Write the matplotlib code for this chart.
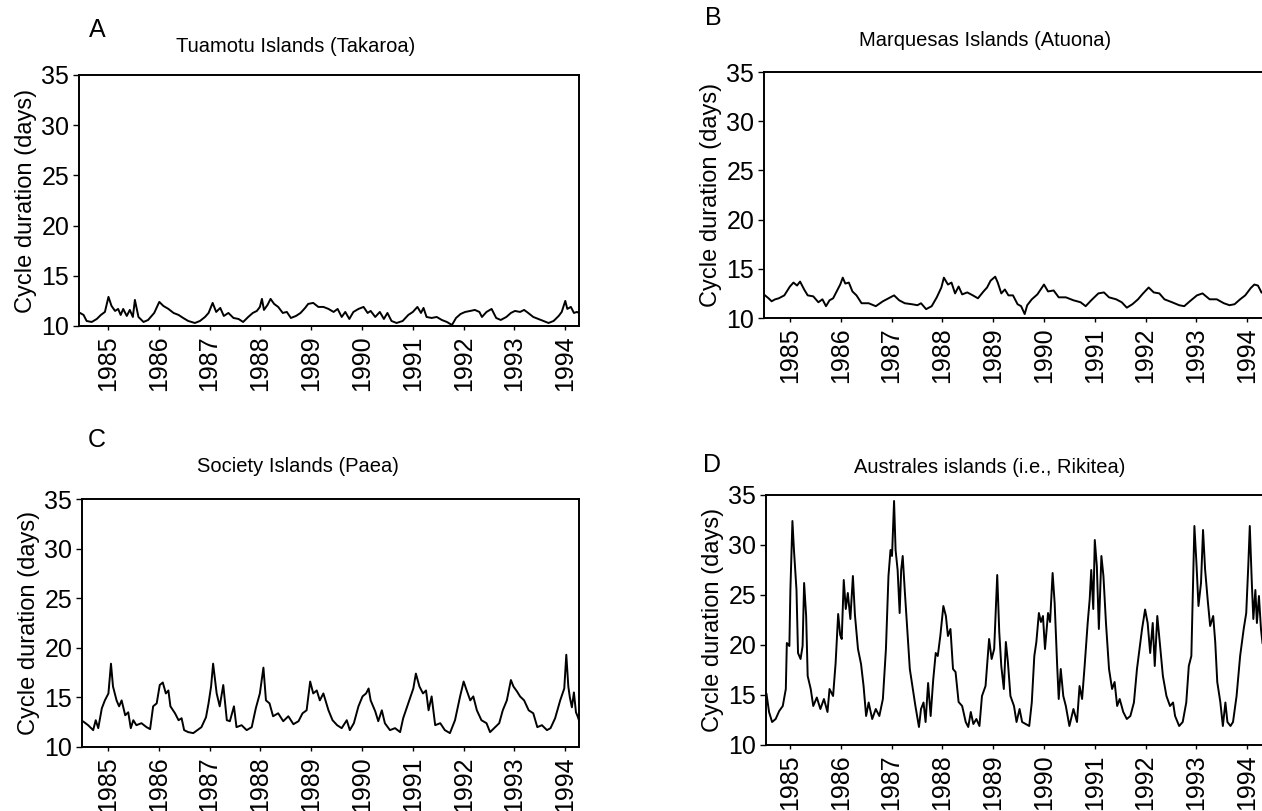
import matplotlib
matplotlib.use("Agg")
import matplotlib.pyplot as plt

plt.rcParams['font.family'] = ['Liberation Sans', 'DejaVu Sans']

# ---------------- data ----------------
years_ticks = [1985, 1986, 1987, 1988, 1989, 1990, 1991, 1992, 1993, 1994]
y_ticks = [10, 15, 20, 25, 30, 35]

panel_letters = ["A", "B", "C", "D"]
panel_titles = ["Tuamotu Islands (Takaroa)", "Marquesas Islands (Atuona)",
                "Society Islands (Paea)", "Australes islands (i.e., Rikitea)"]
y_label = "Cycle duration (days)"

a_t = [1984.45, 1984.52, 1984.58, 1984.68, 1984.78, 1984.86, 1984.94, 1985.01, 1985.07, 1985.14,
       1985.20, 1985.25, 1985.30, 1985.37, 1985.43, 1985.49, 1985.53, 1985.60, 1985.70, 1985.79,
       1985.91, 1986.01, 1986.09, 1986.19, 1986.29, 1986.39, 1986.48, 1986.58, 1986.71, 1986.81,
       1986.91, 1986.98, 1987.06, 1987.13, 1987.21, 1987.28, 1987.37, 1987.47, 1987.57, 1987.66,
       1987.76, 1987.85, 1987.93, 1987.99, 1988.03, 1988.07, 1988.14, 1988.20, 1988.27, 1988.35,
       1988.44, 1988.52, 1988.60, 1988.70, 1988.79, 1988.88, 1988.94, 1989.04, 1989.14, 1989.24,
       1989.34, 1989.44, 1989.52, 1989.60, 1989.67, 1989.75, 1989.83, 1989.93, 1990.03, 1990.11,
       1990.17, 1990.26, 1990.35, 1990.43, 1990.50, 1990.58, 1990.68, 1990.80, 1990.91, 1991.00,
       1991.09, 1991.16, 1991.21, 1991.27, 1991.37, 1991.47, 1991.57, 1991.67, 1991.77, 1991.85,
       1991.94, 1992.03, 1992.13, 1992.22, 1992.31, 1992.36, 1992.45, 1992.55, 1992.64, 1992.73,
       1992.84, 1992.93, 1993.01, 1993.11, 1993.19, 1993.27, 1993.37, 1993.47, 1993.57, 1993.67,
       1993.77, 1993.87, 1993.93, 1994.00, 1994.04, 1994.11, 1994.17, 1994.23, 1994.27]
a_v = [11.3, 11.1, 10.5, 10.4, 10.7, 11.1, 11.4, 12.9, 12.0, 11.5,
       11.7, 11.1, 11.7, 11.0, 11.6, 10.9, 12.6, 10.9, 10.4, 10.6,
       11.3, 12.4, 12.0, 11.7, 11.3, 11.1, 10.8, 10.5, 10.3, 10.5,
       10.9, 11.3, 12.3, 11.4, 11.8, 11.0, 11.3, 10.8, 10.7, 10.4,
       10.9, 11.3, 11.5, 11.9, 12.7, 11.6, 12.1, 12.7, 12.2, 11.9,
       11.3, 11.4, 10.8, 11.0, 11.3, 11.8, 12.2, 12.3, 11.9, 11.9,
       11.7, 11.4, 11.7, 10.9, 11.4, 10.7, 11.4, 11.7, 11.9, 11.3,
       11.5, 10.9, 11.4, 10.7, 11.3, 10.5, 10.3, 10.5, 11.1, 11.4,
       11.9, 11.3, 11.8, 10.9, 10.8, 10.9, 10.6, 10.4, 10.1, 10.8,
       11.2, 11.4, 11.5, 11.6, 11.4, 10.9, 11.4, 11.7, 10.8, 10.6,
       10.9, 11.3, 11.5, 11.4, 11.6, 11.3, 10.9, 10.7, 10.5, 10.3,
       10.5, 11.0, 11.4, 12.5, 11.7, 11.9, 11.3, 11.4, 11.3]

b_t = [1984.51, 1984.58, 1984.64, 1984.71, 1984.78, 1984.89, 1985.00, 1985.07, 1985.14, 1985.20,
       1985.28, 1985.35, 1985.46, 1985.56, 1985.64, 1985.71, 1985.78, 1985.85, 1985.92, 1985.99,
       1986.04, 1986.09, 1986.16, 1986.23, 1986.31, 1986.41, 1986.55, 1986.69, 1986.83, 1986.94,
       1987.05, 1987.15, 1987.26, 1987.40, 1987.51, 1987.58, 1987.68, 1987.79, 1987.89, 1987.98,
       1988.03, 1988.11, 1988.18, 1988.25, 1988.32, 1988.39, 1988.49, 1988.60, 1988.70, 1988.81,
       1988.88, 1988.95, 1989.04, 1989.09, 1989.16, 1989.23, 1989.30, 1989.39, 1989.48, 1989.55,
       1989.62, 1989.67, 1989.76, 1989.87, 1990.00, 1990.08, 1990.19, 1990.29, 1990.43, 1990.58,
       1990.72, 1990.82, 1990.93, 1991.07, 1991.18, 1991.28, 1991.42, 1991.53, 1991.63, 1991.74,
       1991.85, 1991.95, 1992.06, 1992.16, 1992.27, 1992.37, 1992.52, 1992.66, 1992.76, 1992.87,
       1993.01, 1993.12, 1993.26, 1993.40, 1993.54, 1993.65, 1993.75, 1993.86, 1993.96, 1994.07,
       1994.14, 1994.21, 1994.28]
b_v = [12.3, 12.0, 11.7, 11.9, 12.0, 12.3, 13.2, 13.6, 13.3, 13.7,
       12.9, 12.3, 12.2, 11.6, 11.9, 11.2, 11.8, 12.0, 12.7, 13.4,
       14.1, 13.5, 13.6, 12.7, 12.3, 11.5, 11.5, 11.2, 11.7, 12.0,
       12.3, 11.8, 11.5, 11.4, 11.3, 11.5, 10.9, 11.2, 12.1, 13.1,
       14.1, 13.4, 13.6, 12.5, 13.2, 12.4, 12.6, 12.3, 12.0, 12.7,
       13.1, 13.8, 14.2, 13.6, 12.5, 12.9, 12.3, 12.3, 11.4, 11.2,
       10.4, 11.3, 11.9, 12.4, 13.4, 12.7, 12.8, 12.1, 12.1, 11.8,
       11.6, 11.2, 11.8, 12.5, 12.6, 12.1, 11.9, 11.6, 11.05, 11.4,
       11.9, 12.5, 13.1, 12.6, 12.5, 11.9, 11.6, 11.3, 11.2, 11.7,
       12.3, 12.5, 11.9, 11.9, 11.5, 11.3, 11.4, 11.9, 12.3, 13.05,
       13.4, 13.3, 12.6]

c_t = [1984.52, 1984.61, 1984.71, 1984.76, 1984.81, 1984.88, 1984.94, 1985.01, 1985.06, 1985.10,
       1985.17, 1985.22, 1985.27, 1985.34, 1985.40, 1985.45, 1985.50, 1985.56, 1985.66, 1985.76,
       1985.83, 1985.89, 1985.96, 1986.02, 1986.08, 1986.14, 1986.19, 1986.23, 1986.32, 1986.39,
       1986.45, 1986.50, 1986.58, 1986.68, 1986.76, 1986.84, 1986.93, 1986.98, 1987.03, 1987.07,
       1987.14, 1987.20, 1987.27, 1987.34, 1987.40, 1987.48, 1987.53, 1987.63, 1987.73, 1987.83,
       1987.91, 1987.99, 1988.06, 1988.11, 1988.18, 1988.25, 1988.35, 1988.45, 1988.55, 1988.65,
       1988.75, 1988.83, 1988.91, 1988.98, 1989.04, 1989.11, 1989.17, 1989.24, 1989.34, 1989.42,
       1989.51, 1989.60, 1989.70, 1989.76, 1989.84, 1989.93, 1990.01, 1990.08, 1990.13, 1990.17,
       1990.26, 1990.32, 1990.39, 1990.45, 1990.55, 1990.65, 1990.75, 1990.81, 1990.91, 1991.01,
       1991.06, 1991.13, 1991.20, 1991.26, 1991.31, 1991.37, 1991.44, 1991.54, 1991.63, 1991.73,
       1991.83, 1991.93, 1992.00, 1992.06, 1992.13, 1992.19, 1992.26, 1992.35, 1992.45, 1992.52,
       1992.62, 1992.70, 1992.77, 1992.85, 1992.93, 1992.98, 1993.05, 1993.11, 1993.19, 1993.28,
       1993.37, 1993.45, 1993.54, 1993.64, 1993.71, 1993.80, 1993.90, 1993.98, 1994.02, 1994.06,
       1994.09, 1994.13, 1994.17, 1994.21, 1994.25, 1994.28]
c_v = [12.55, 12.2, 11.7, 12.7, 11.9, 13.9, 14.7, 15.4, 18.4, 16.1,
       14.7, 14.1, 14.7, 13.2, 13.5, 11.9, 12.7, 12.2, 12.4, 12.0,
       11.8, 14.1, 14.4, 16.25, 16.5, 15.4, 15.7, 14.1, 13.4, 12.7,
       12.9, 11.7, 11.5, 11.4, 11.7, 12.0, 13.0, 14.4, 16.1, 18.4,
       15.4, 14.1, 16.25, 12.7, 12.6, 14.1, 12.0, 12.2, 11.7, 12.0,
       13.9, 15.4, 18.0, 14.7, 14.4, 13.1, 13.4, 12.6, 13.1, 12.3,
       12.6, 13.4, 13.7, 16.6, 15.4, 15.7, 14.7, 15.4, 13.7, 12.7,
       12.2, 11.9, 12.7, 11.7, 12.4, 14.1, 15.1, 15.4, 15.9, 14.7,
       13.6, 12.6, 13.7, 12.4, 11.7, 11.9, 11.5, 12.9, 14.4, 15.9,
       17.4, 16.1, 15.4, 15.7, 13.7, 15.1, 12.2, 12.4, 11.7, 11.4,
       12.7, 15.1, 16.6, 15.7, 14.7, 15.1, 13.7, 12.7, 12.4, 11.5,
       12.0, 12.4, 13.7, 14.7, 16.75, 16.1, 15.6, 15.1, 14.7, 13.7,
       13.4, 12.0, 12.2, 11.7, 11.9, 12.9, 14.7, 15.9, 19.3, 16.1,
       15.0, 14.0, 15.5, 13.5, 13.0, 12.5]

d_t = [1984.54, 1984.59, 1984.65, 1984.72, 1984.79, 1984.86, 1984.92, 1984.94, 1984.99, 1985.01,
       1985.05, 1985.08, 1985.13, 1985.16, 1985.21, 1985.25, 1985.28, 1985.32, 1985.35, 1985.41,
       1985.46, 1985.53, 1985.60, 1985.67, 1985.74, 1985.78, 1985.85, 1985.90, 1985.95, 1985.99,
       1986.02, 1986.06, 1986.10, 1986.14, 1986.19, 1986.24, 1986.28, 1986.34, 1986.40, 1986.45,
       1986.50, 1986.55, 1986.62, 1986.69, 1986.76, 1986.83, 1986.89, 1986.94, 1986.98, 1987.01,
       1987.05, 1987.08, 1987.12, 1987.16, 1987.19, 1987.22, 1987.26, 1987.31, 1987.36, 1987.42,
       1987.47, 1987.54, 1987.58, 1987.63, 1987.67, 1987.72, 1987.77, 1987.82, 1987.87, 1987.91,
       1987.96, 1988.02, 1988.07, 1988.11, 1988.16, 1988.21, 1988.26, 1988.32, 1988.39, 1988.46,
       1988.51, 1988.56, 1988.61, 1988.67, 1988.73, 1988.78, 1988.85, 1988.92, 1988.97, 1989.02,
       1989.08, 1989.12, 1989.16, 1989.21, 1989.25, 1989.29, 1989.34, 1989.41, 1989.46, 1989.52,
       1989.57, 1989.64, 1989.71, 1989.76, 1989.81, 1989.85, 1989.90, 1989.94, 1989.98, 1990.02,
       1990.08, 1990.12, 1990.17, 1990.21, 1990.26, 1990.29, 1990.33, 1990.38, 1990.43, 1990.50,
       1990.58, 1990.65, 1990.70, 1990.75, 1990.80, 1990.86, 1990.90, 1990.93, 1990.97, 1991.00,
       1991.04, 1991.08, 1991.13, 1991.17, 1991.22, 1991.28, 1991.34, 1991.39, 1991.44, 1991.49,
       1991.56, 1991.63, 1991.70, 1991.77, 1991.83, 1991.88, 1991.93, 1991.99, 1992.04, 1992.09,
       1992.14, 1992.18, 1992.23, 1992.28, 1992.34, 1992.41, 1992.48, 1992.54, 1992.58, 1992.66,
       1992.73, 1992.80, 1992.85, 1992.90, 1992.96, 1993.00, 1993.04, 1993.09, 1993.13, 1993.17,
       1993.22, 1993.27, 1993.33, 1993.37, 1993.41, 1993.47, 1993.52, 1993.57, 1993.61, 1993.67,
       1993.72, 1993.79, 1993.86, 1993.93, 1993.98, 1994.02, 1994.05, 1994.09, 1994.12, 1994.16,
       1994.19, 1994.23, 1994.27, 1994.30]
d_v = [15.1, 13.3, 12.3, 12.6, 13.4, 13.9, 15.6, 20.2, 19.9, 25.5,
       32.4, 29.5, 25.5, 19.2, 18.6, 19.9, 26.2, 22.9, 16.9, 15.6,
       13.9, 14.75, 13.6, 14.6, 13.3, 15.6, 14.9, 18.2, 23.1, 21.0,
       20.6, 26.5, 23.6, 25.2, 22.6, 26.9, 23.0, 19.6, 18.1, 15.9,
       12.9, 14.25, 12.6, 13.6, 12.9, 14.6, 19.6, 26.9, 29.5, 28.9,
       34.4, 29.5, 27.5, 23.2, 27.5, 28.9, 25.5, 21.6, 17.6, 15.6,
       13.9, 11.8, 13.6, 14.25, 12.3, 16.2, 12.9, 16.5, 19.2, 18.9,
       20.9, 23.9, 22.9, 20.9, 21.6, 17.6, 17.3, 14.3, 13.9, 12.3,
       11.8, 13.3, 12.1, 12.6, 11.9, 14.9, 15.9, 20.6, 18.6, 19.6,
       27.0, 21.3, 17.9, 15.6, 20.3, 18.3, 14.9, 13.9, 12.3, 13.6,
       12.3, 12.1, 11.9, 14.25, 18.9, 20.3, 23.2, 22.3, 22.9, 19.6,
       23.2, 22.3, 27.2, 24.2, 17.9, 14.6, 17.6, 14.9, 13.9, 11.9,
       13.6, 12.3, 15.9, 14.6, 17.9, 22.2, 24.6, 27.5, 23.6, 30.5,
       27.9, 21.6, 28.9, 26.9, 22.2, 17.6, 15.6, 16.3, 13.9, 14.6,
       13.3, 12.6, 12.9, 14.25, 17.6, 19.6, 21.6, 23.55, 22.2, 19.2,
       22.2, 17.9, 22.9, 20.2, 16.9, 14.9, 13.9, 14.25, 12.9, 11.9,
       12.3, 14.25, 17.9, 18.9, 31.9, 28.2, 23.9, 26.2, 31.5, 27.6,
       24.6, 21.9, 22.9, 20.3, 16.3, 14.3, 11.9, 14.25, 12.3, 11.9,
       12.3, 14.9, 18.9, 21.6, 23.2, 27.9, 31.9, 26.2, 22.6, 25.5,
       22.2, 24.9, 21.6, 20.2]

series = [(a_t, a_v), (b_t, b_v), (c_t, c_v), (d_t, d_v)]

# ---------------- layout ----------------
W, H = 1262, 811
fig = plt.figure(figsize=(W / 100, H / 100), dpi=100)

# pixel boxes: left, right, top, bottom
boxes = [(79, 579, 75, 326), (764, 1263, 72, 318),
         (82, 579, 499, 747), (766, 1263, 495, 745)]
xlims = [(1984.43, 1994.27), (1984.49, 1994.31), (1984.49, 1994.27), (1984.53, 1994.31)]
letter_pos = [(97, 30), (713, 18), (97, 440), (712, 465)]
title_pos = [(296, 47), (985, 41), (298, 466), (990, 468)]

for i, (t, v) in enumerate(series):
    l, r, tp, bt = boxes[i]
    ax = fig.add_axes([l / W, 1 - bt / H, (r - l) / W, (bt - tp) / H])
    ax.plot(t, v, color='black', lw=1.4)
    ax.set_xlim(*xlims[i])
    ax.set_ylim(10, 35)
    ax.set_yticks(y_ticks)
    ax.set_xticks(years_ticks)
    ax.set_xticklabels([str(y) for y in years_ticks], rotation=90, fontsize=18)
    ax.tick_params(axis='y', labelsize=18, length=4, width=1, pad=3)
    ax.tick_params(axis='x', length=3, width=1, pad=4)
    for s in ax.spines.values():
        s.set_linewidth(1.4)
    ax.set_ylabel(y_label, fontsize=17, labelpad=3)
    fig.text(letter_pos[i][0] / W, 1 - letter_pos[i][1] / H, panel_letters[i],
             fontsize=18, ha='center', va='center')
    fig.text(title_pos[i][0] / W, 1 - title_pos[i][1] / H, panel_titles[i],
             fontsize=14.5, ha='center', va='center')

fig.savefig("out.png", dpi=100)
